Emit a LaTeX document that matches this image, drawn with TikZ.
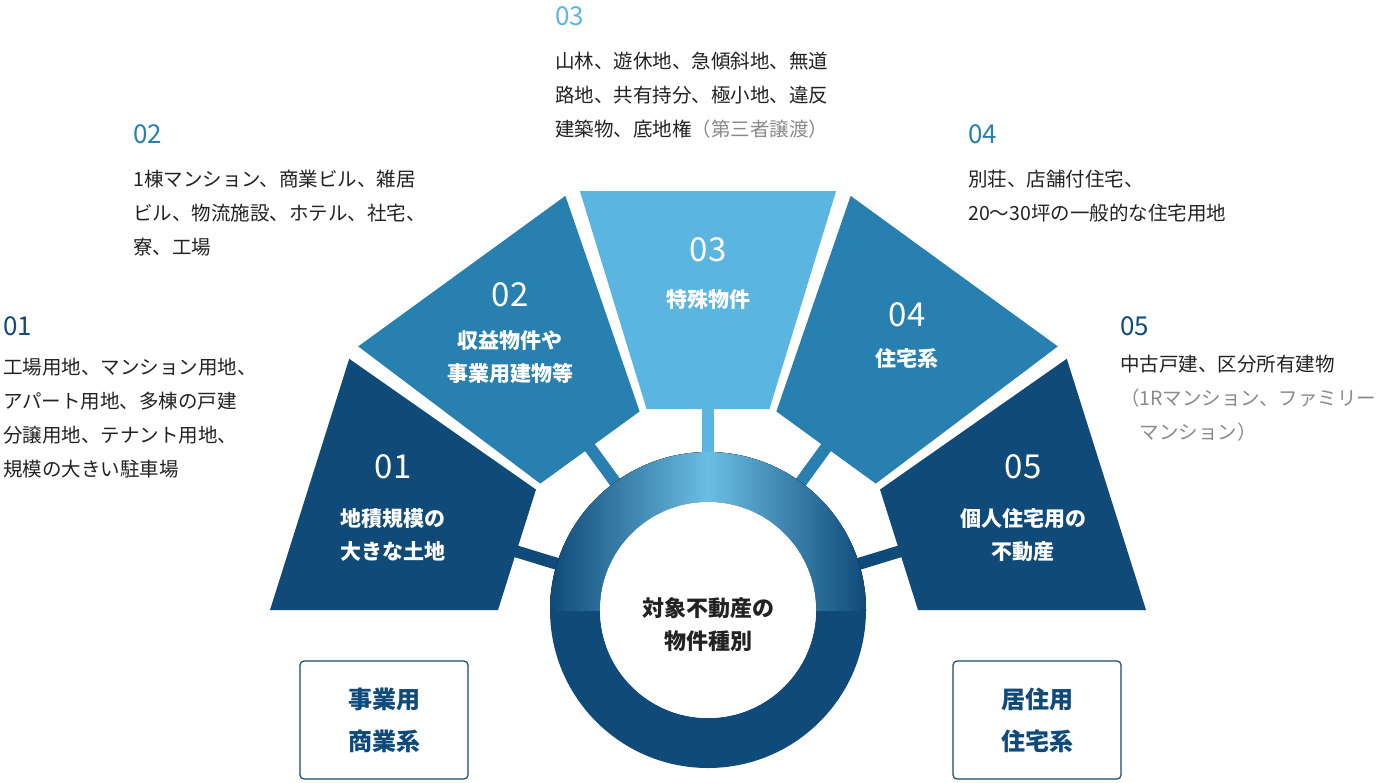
\documentclass[tikz,border=0pt]{standalone}
\usepackage{fontspec}
\setmainfont{Noto Sans CJK JP}
\usetikzlibrary{calc}
\definecolor{cdark}{HTML}{0F4A78}
\definecolor{cmid}{HTML}{2880B0}
\definecolor{clight}{HTML}{5AB6E0}
\definecolor{cgrey}{HTML}{8A8A8A}
\definecolor{ctext}{HTML}{222222}
\tikzset{
 inlab/.style={text=white,font=\bfseries\fontsize{21}{33}\selectfont,align=center},
 innum/.style={text=white,font=\fontsize{33}{33}\selectfont},
 outnum/.style={anchor=north west,font=\fontsize{26}{26}\selectfont,inner sep=0},
 outtxt/.style={anchor=north west,align=left,text=ctext,font=\fontsize{19.5}{34}\selectfont,inner sep=0},
 catbox/.style={draw=cdark,line width=1.2pt,rounded corners=4pt,minimum width=168pt,minimum height=118pt,text=cdark,align=center,font=\bfseries\fontsize{24}{42}\selectfont}
}
\begin{document}
\begin{tikzpicture}[x=1pt,y=1pt]
\useasboundingbox (0,0) rectangle (1400,-782);
\coordinate (c) at (708,-610);
% sectors
\foreach \a/\b/\col in {180/145/cdark,143/109/cmid,107/73/clight,71/37/cmid,35/0/cdark}{
 \fill[\col] ($(c)+(\a:438)$) -- ($(c)+(\b:438)$) -- ($(c)+(\b:210)$) -- ($(c)+(\a:210)$) -- cycle;
}
% bars
\foreach \a/\col in {163/cdark,126/cmid,90/clight,54/cmid,17/cdark}{
 \draw[\col,line width=12pt] ($(c)+(\a:150)$) -- ($(c)+(\a:215)$);
}
% ring
\fill[cdark,even odd rule] (c) circle (158) (c) circle (108);
\begin{scope}
\clip (550,-610) rectangle (866,-440);
\fill[even odd rule,left color=cdark,right color=cdark,middle color=clight!90!white] (c) circle (158) (c) circle (108);
\end{scope}
\fill[white] (c) circle (108);
\node[text=ctext,font=\bfseries\fontsize{22}{33}\selectfont,align=center] (ctr) at (708,-625) {対象不動産の\\物件種別};
% sector labels
\node[innum] (n1) at (393,-467) {01};
\node[inlab] (t1) at (393,-535) {地積規模の\\大きな土地};
\node[innum] (n2) at (510,-295) {02};
\node[inlab] (t2) at (510,-357) {収益物件や\\事業用建物等};
\node[innum] (n3) at (708,-250) {03};
\node[inlab] (t3) at (708,-300) {特殊物件};
\node[innum] (n4) at (907,-315) {04};
\node[inlab] (t4) at (907,-358) {住宅系};
\node[innum] (n5) at (1023,-467) {05};
\node[inlab] (t5) at (1023,-535) {個人住宅用の\\不動産};
% outside texts
\node[outnum,text=clight] (o3) at (555,-6) {03};
\node[outtxt] (d3) at (555,-52) {山林、遊休地、急傾斜地、無道\\路地、共有持分、極小地、違反\\建築物、底地権{\color{cgrey}（第三者譲渡）}};
\node[outnum,text=cmid] (o2) at (133,-124) {02};
\node[outtxt] (d2) at (133,-170) {1棟マンション、商業ビル、雑居\\ビル、物流施設、ホテル、社宅、\\寮、工場};
\node[outnum,text=cmid] (o4) at (968,-124) {04};
\node[outtxt] (d4) at (968,-170) {別荘、店舗付住宅、\\20～30坪の一般的な住宅用地};
\node[outnum,text=cdark] (o1) at (3,-316) {01};
\node[outtxt] (d1) at (3,-358) {工場用地、マンション用地、\\アパート用地、多棟の戸建\\分譲用地、テナント用地、\\規模の大きい駐車場};
\node[outnum,text=cdark] (o5) at (1120,-316) {05};
\node[outtxt] (d5) at (1120,-355) {中古戸建、区分所有建物\\{\color{cgrey}（1Rマンション、ファミリー}\\{\color{cgrey}　マンション）}};
% category boxes
\node[catbox] (b1) at (384,-720) {事業用\\商業系};
\node[catbox] (b2) at (1037,-720) {居住用\\住宅系};
\end{tikzpicture}
\end{document}
